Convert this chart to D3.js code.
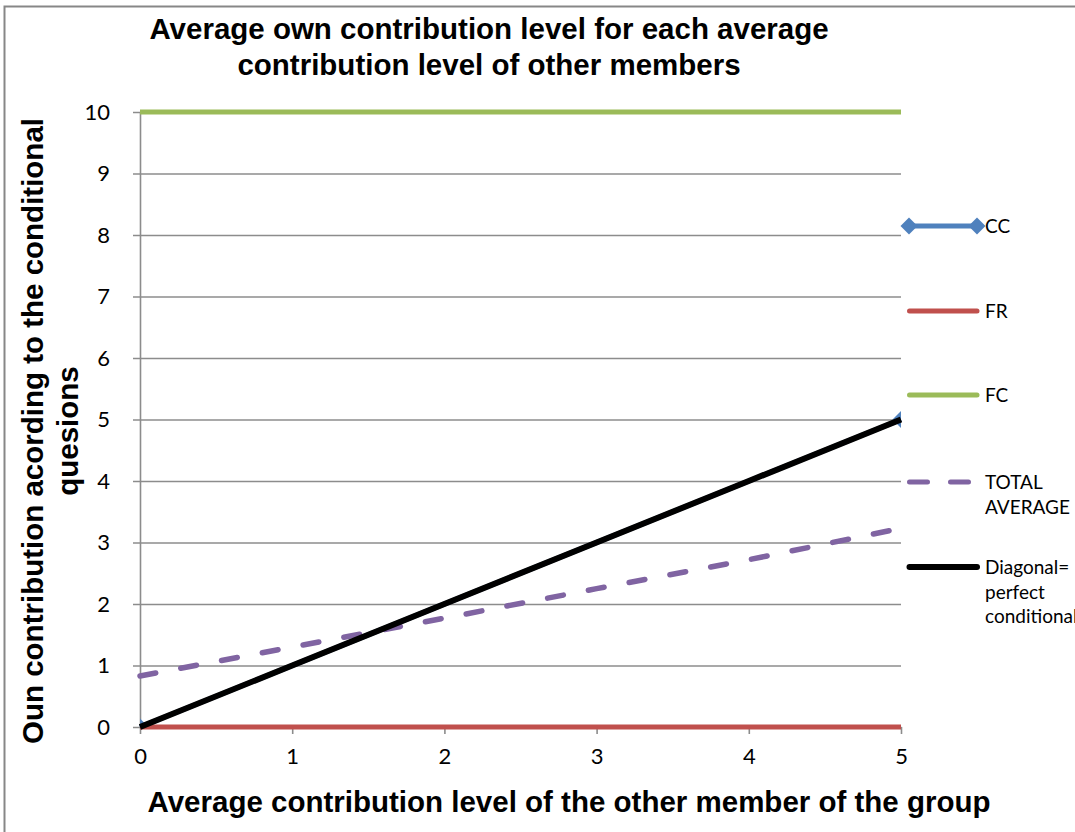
<!DOCTYPE html>
<html>
<head>
<meta charset="utf-8">
<script src="https://cdn.jsdelivr.net/npm/d3@7"></script>
<style>
  html, body { margin: 0; padding: 0; background: #fff; overflow: hidden; }
  svg { display: block; }
</style>
</head>
<body>
<svg id="chart" width="1075" height="832"></svg>
<script>
// Contribution levels of the other group members (x axis)
const others = [0, 1, 2, 3, 4, 5];
const yTicks = [0, 1, 2, 3, 4, 5, 6, 7, 8, 9, 10];

// Series: own contribution for each level
const ccX = [0, 5];
const ccValues = [0, 5];
const frValues = [0, 0, 0, 0, 0, 0];
const fcValues = [10, 10, 10, 10, 10, 10];
const totalAverage = [0.83, 1.30, 1.77, 2.25, 2.72, 3.23];
const diagonal = [0, 1, 2, 3, 4, 5];

const legendItems = [
  { lines: ["CC"], color: "#4F81BD", width: 5, marker: true },
  { lines: ["FR"], color: "#C0504D", width: 5 },
  { lines: ["FC"], color: "#9BBB59", width: 5 },
  { lines: ["TOTAL", "AVERAGE"], color: "#8064A2", width: 5, dash: "18 23" },
  { lines: ["Diagonal=", "perfect", "conditional"], color: "#000000", width: 6 }
];

const svg = d3.select("#chart");
const margin = { left: 140, right: 174, top: 112, bottom: 105 };
const W = 1075, H = 832;

// Outer chart frame
svg.append("rect")
  .attr("x", 4.5).attr("y", 6.5)
  .attr("width", W + 10).attr("height", H + 10)
  .attr("fill", "#fff").attr("stroke", "#878787").attr("stroke-width", 2);

const x = d3.scaleLinear().domain([0, 5]).range([margin.left, W - margin.right]);
const y = d3.scaleLinear().domain([0, 10]).range([H - margin.bottom, margin.top]);

const gridColor = "#8c8c8c";
const tickFont = "Lato, 'Open Sans', sans-serif";

// Horizontal gridlines with left ticks
const yAxis = d3.axisLeft(y).tickValues(yTicks).tickFormat(d3.format("d"))
  .tickSize(-(x(5) - x(0))).tickSizeOuter(0).tickPadding(30);
const gy = svg.append("g").attr("transform", `translate(${x(0)},0)`).call(yAxis);
gy.select(".domain").attr("stroke", gridColor).attr("stroke-width", 1.6);
gy.selectAll(".tick line").attr("stroke", gridColor).attr("stroke-width", 1.6).attr("x1", -7);
gy.selectAll(".tick text").attr("font-family", tickFont).attr("font-size", 22).attr("fill", "#000");

// Bottom axis with ticks
const xAxis = d3.axisBottom(x).tickValues(others).tickFormat(d3.format("d"))
  .tickSize(7).tickSizeOuter(0).tickPadding(14);
const gx = svg.append("g").attr("transform", `translate(0,${y(0)})`).call(xAxis);
gx.select(".domain").attr("stroke", gridColor).attr("stroke-width", 1.6);
gx.selectAll(".tick line").attr("stroke", gridColor).attr("stroke-width", 1.6);
gx.selectAll(".tick text").attr("font-family", tickFont).attr("font-size", 22).attr("fill", "#000");

// Plot-area clip for markers
svg.append("clipPath").attr("id", "plotClip").append("rect")
  .attr("x", x(0)).attr("y", y(10)).attr("width", x(5) - x(0)).attr("height", y(0) - y(10));

const line = d3.line().x(d => x(d[0])).y(d => y(d[1]));
const diamond = d3.symbol().type(d3.symbolSquare).size(144);

// CC series (sits beneath the diagonal)
const ccPts = ccX.map((v, i) => [v, ccValues[i]]);
svg.append("path").attr("d", line(ccPts)).attr("fill", "none")
  .attr("stroke", "#4F81BD").attr("stroke-width", 5);
svg.append("g").attr("clip-path", "url(#plotClip)")
  .selectAll("path").data(ccPts).join("path")
  .attr("transform", d => `translate(${x(d[0])},${y(d[1])}) rotate(45)`)
  .attr("d", diamond).attr("fill", "#4F81BD");

function drawSeries(values, color, width, dash) {
  const p = svg.append("path")
    .attr("d", line(others.map((v, i) => [v, values[i]])))
    .attr("fill", "none").attr("stroke", color).attr("stroke-width", width)
    .attr("stroke-linejoin", "round");
  if (dash) p.attr("stroke-dasharray", dash).attr("stroke-linecap", "round");
  return p;
}
drawSeries(frValues, "#C0504D", 5);
drawSeries(fcValues, "#9BBB59", 5);
drawSeries(totalAverage, "#8064A2", 5.5, "16 25.5");
drawSeries(diagonal, "#000000", 6);

// Legend
const legendY = [226, 311, 395, 482, 567];
const lg = svg.append("g");
legendItems.forEach((it, i) => {
  const yy = legendY[i];
  const ln = lg.append("line").attr("x1", 909.5).attr("x2", it.dash ? 969.5 : 977).attr("y1", yy).attr("y2", yy)
    .attr("stroke", it.color).attr("stroke-width", it.width).attr("stroke-linecap", "round");
  if (it.dash) ln.attr("stroke-dasharray", it.dash);
  if (it.marker) {
    [909, 977].forEach(mx => lg.append("path")
      .attr("transform", `translate(${mx},${yy}) rotate(45)`)
      .attr("d", diamond).attr("fill", it.color));
  }
  const t = lg.append("text").attr("x", 985).attr("y", yy + 7)
    .attr("font-family", tickFont).attr("font-size", 19).attr("fill", "#000");
  it.lines.forEach((s, j) => t.append("tspan").attr("x", 985).attr("dy", j === 0 ? 0 : 24.5).text(s));
});

// Titles
const boldFont = "'Liberation Sans', Arial, sans-serif";
const title = svg.append("text").attr("text-anchor", "middle")
  .attr("font-family", boldFont).attr("font-weight", "bold").attr("font-size", 29.5).attr("fill", "#000");
title.append("tspan").attr("x", 489).attr("y", 39).text("Average own contribution level for each average");
title.append("tspan").attr("x", 489).attr("y", 75).text("contribution level of other members");

svg.append("text").attr("x", 569).attr("y", 812).attr("text-anchor", "middle")
  .attr("font-family", boldFont).attr("font-weight", "bold").attr("font-size", 29.5).attr("fill", "#000")
  .text("Average contribution level of the other member of the group");

const yTitle = svg.append("text").attr("text-anchor", "middle")
  .attr("transform", "translate(0,431) rotate(-90)")
  .attr("font-family", boldFont).attr("font-weight", "bold").attr("font-size", 29.5).attr("fill", "#000");
yTitle.append("tspan").attr("x", 0).attr("y", 43).text("Oun contribution acording to the conditional");
yTitle.append("tspan").attr("x", 0).attr("y", 78).text("quesions");
</script>
</body>
</html>
